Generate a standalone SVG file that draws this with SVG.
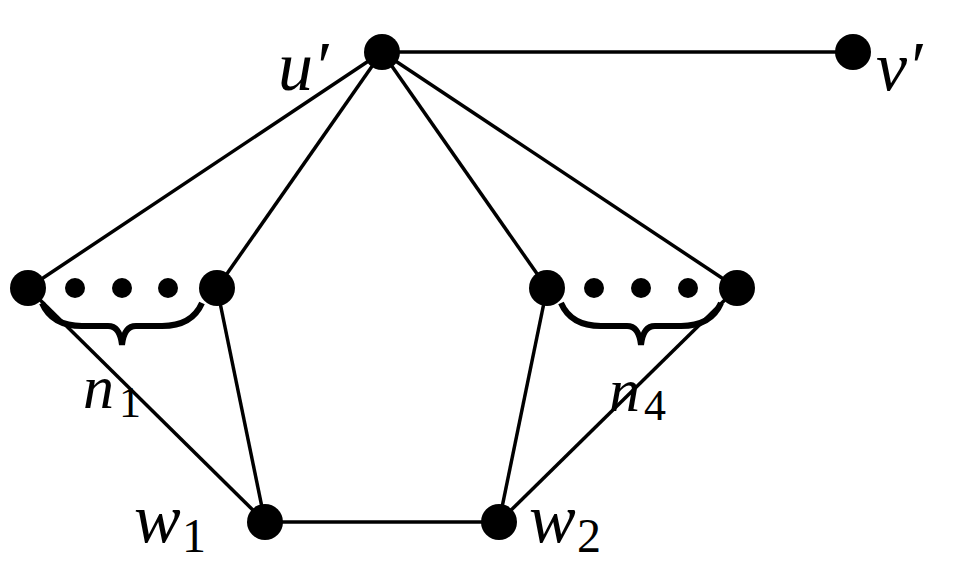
<svg xmlns="http://www.w3.org/2000/svg" width="958" height="562" viewBox="0 0 958 562">
<style>
.e{stroke:#000;stroke-width:3.5;fill:none}
.n{fill:#000}
.b{stroke:#000;stroke-width:6;fill:none}
.t{font-family:"Liberation Serif",serif;font-style:italic;fill:#000}
.s{font-family:"Liberation Serif",serif;fill:#000}
</style>
<rect width="958" height="562" fill="#fff"/>
<g id="edges">
<line class="e" x1="382" y1="52" x2="853" y2="52"/>
<line class="e" x1="382" y1="52" x2="28" y2="288"/>
<line class="e" x1="382" y1="52" x2="217" y2="288"/>
<line class="e" x1="382" y1="52" x2="547" y2="288"/>
<line class="e" x1="382" y1="52" x2="737" y2="288"/>
<line class="e" x1="28" y1="288" x2="265" y2="522"/>
<line class="e" x1="217" y1="288" x2="265" y2="522"/>
<line class="e" x1="547" y1="288" x2="499" y2="522"/>
<line class="e" x1="737" y1="288" x2="499" y2="522"/>
<line class="e" x1="265" y1="522" x2="499" y2="522"/>
</g>
<g id="u"><circle class="n" cx="382" cy="52" r="18"/><text class="t" x="278" y="90" font-size="70">u′</text></g>
<g id="v"><circle class="n" cx="853" cy="52" r="18"/><text class="t" x="876" y="90" font-size="70">v′</text></g>
<g id="a1"><circle class="n" cx="28" cy="288" r="18"/></g>
<g id="a2"><circle class="n" cx="217" cy="288" r="18"/></g>
<g id="a3"><circle class="n" cx="547" cy="288" r="18"/></g>
<g id="a4"><circle class="n" cx="737" cy="288" r="18"/></g>
<g id="dots1"><circle class="n" cx="75" cy="288" r="10"/><circle class="n" cx="122" cy="288" r="10"/><circle class="n" cx="168" cy="288" r="10"/></g>
<g id="dots2"><circle class="n" cx="594" cy="288" r="10"/><circle class="n" cx="641" cy="288" r="10"/><circle class="n" cx="688" cy="288" r="10"/></g>
<g id="brace1"><path class="b" d="M42,303 Q52,326 82,326 L108,326 Q120,326 122,345 Q124,326 136,326 L162,326 Q192,326 202,303"/><text class="t" x="83" y="408" font-size="62">n</text><text class="s" x="119" y="417" font-size="44">1</text></g>
<g id="brace2"><path class="b" d="M561,303 Q571,326 601,326 L627,326 Q639,326 641,345 Q643,326 655,326 L681,326 Q711,326 721,303"/><text class="t" x="609" y="411" font-size="62">n</text><text class="s" x="644" y="420" font-size="44">4</text></g>
<g id="w1"><circle class="n" cx="265" cy="522" r="18"/><text class="t" x="134" y="542" font-size="70">w</text><text class="s" x="182" y="552" font-size="48">1</text></g>
<g id="w2"><circle class="n" cx="499" cy="522" r="18"/><text class="t" x="529" y="542" font-size="70">w</text><text class="s" x="577" y="552" font-size="48">2</text></g>
</svg>
